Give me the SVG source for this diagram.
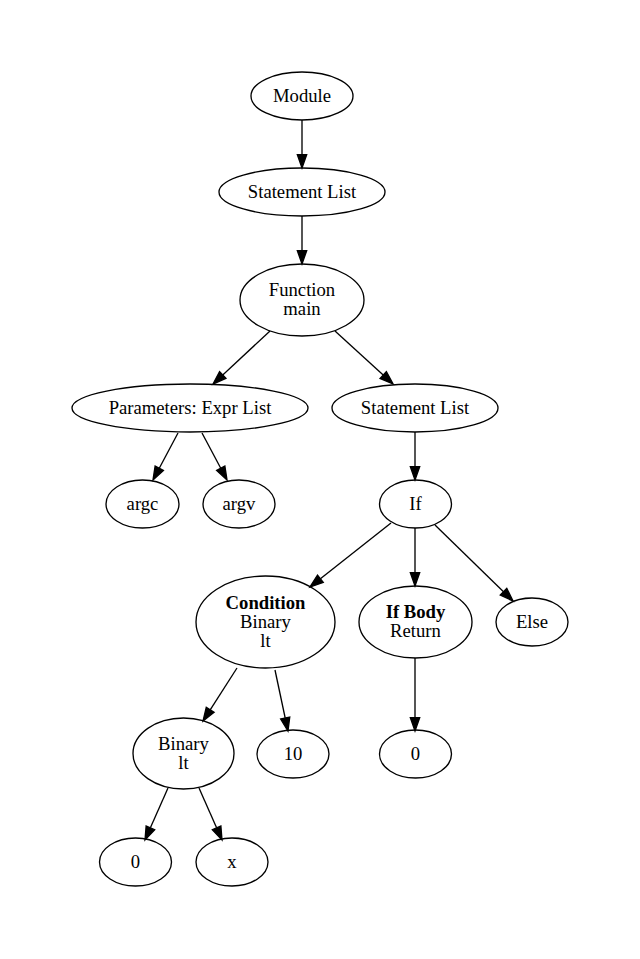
<svg xmlns="http://www.w3.org/2000/svg" width="640" height="959" viewBox="0 0 640 959">
<style>
.n ellipse{fill:none;stroke:#000;stroke-width:1.33}
.n text{font-family:"Liberation Serif","Times New Roman",serif;font-size:18.67px;text-anchor:middle;fill:#000}
.b{font-weight:bold}
#edges path{fill:none;stroke:#000;stroke-width:1.33;marker-end:url(#ah)}
</style>
<defs>
<marker id="ah" markerUnits="userSpaceOnUse" viewBox="0 -5 14 10" refX="0" refY="0" markerWidth="14" markerHeight="10" orient="auto" overflow="visible">
<path d="M0,-4.67 L13.33,0 L0,4.67 Z" fill="#000" stroke="#000" stroke-width="1.33"/>
</marker>
</defs>
<rect width="640" height="959" fill="#fff"/>
<g id="edges">
<path d="M302,120 L302,154.7"/>
<path d="M302,216 L302,250.7"/>
<path d="M270,331 L222.75,374.94"/>
<path d="M335,331 L383.2,375"/>
<path d="M178,433 L159.25,468.25"/>
<path d="M202,433 L220.75,468.25"/>
<path d="M415,432 L415,466.7"/>
<path d="M391,523 L320.4,578.75"/>
<path d="M415,528 L415,572.7"/>
<path d="M435,525 L503.5,591.7"/>
<path d="M237,668 L210.2,709.8"/>
<path d="M275,670 L285.2,718"/>
<path d="M415,658 L415,717.7"/>
<path d="M168,788 L150.4,827.8"/>
<path d="M199,788 L216.6,827.8"/>
</g>
<g id="module" class="n"><ellipse cx="302" cy="96" rx="51" ry="24"/><text x="302" y="102">Module</text></g>
<g id="stmtlist1" class="n"><ellipse cx="302" cy="192" rx="83" ry="24"/><text x="302" y="198">Statement List</text></g>
<g id="function" class="n"><ellipse cx="302" cy="300" rx="62" ry="36"/><text x="302" y="296.3">Function</text><text x="302" y="315">main</text></g>
<g id="params" class="n"><ellipse cx="190" cy="408" rx="118" ry="24"/><text x="190" y="414">Parameters: Expr List</text></g>
<g id="stmtlist2" class="n"><ellipse cx="415" cy="408" rx="83" ry="24"/><text x="415" y="414">Statement List</text></g>
<g id="argc" class="n"><ellipse cx="142.5" cy="504" rx="36.5" ry="24"/><text x="142.5" y="510">argc</text></g>
<g id="argv" class="n"><ellipse cx="239" cy="504" rx="36" ry="24"/><text x="239" y="510">argv</text></g>
<g id="if" class="n"><ellipse cx="415.5" cy="504" rx="36" ry="24"/><text x="415.5" y="510">If</text></g>
<g id="condition" class="n"><ellipse cx="265.5" cy="622" rx="69.5" ry="46"/><text x="265.5" y="609" class="b">Condition</text><text x="265.5" y="628">Binary</text><text x="265.5" y="646.7">lt</text></g>
<g id="ifbody" class="n"><ellipse cx="415.5" cy="622" rx="56.5" ry="36"/><text x="415.5" y="618.3" class="b">If Body</text><text x="415.5" y="637">Return</text></g>
<g id="else" class="n"><ellipse cx="532" cy="622" rx="36" ry="24"/><text x="532" y="628">Else</text></g>
<g id="binary" class="n"><ellipse cx="183.5" cy="753.5" rx="50.5" ry="35.5"/><text x="183.5" y="749.8">Binary</text><text x="183.5" y="768.5">lt</text></g>
<g id="ten" class="n"><ellipse cx="293" cy="754" rx="36" ry="24"/><text x="293" y="760">10</text></g>
<g id="zero1" class="n"><ellipse cx="415.5" cy="754" rx="36" ry="24"/><text x="415.5" y="760">0</text></g>
<g id="zero2" class="n"><ellipse cx="135.5" cy="862" rx="36" ry="24"/><text x="135.5" y="868">0</text></g>
<g id="x" class="n"><ellipse cx="232" cy="862" rx="36" ry="24"/><text x="232" y="868">x</text></g>
</svg>
